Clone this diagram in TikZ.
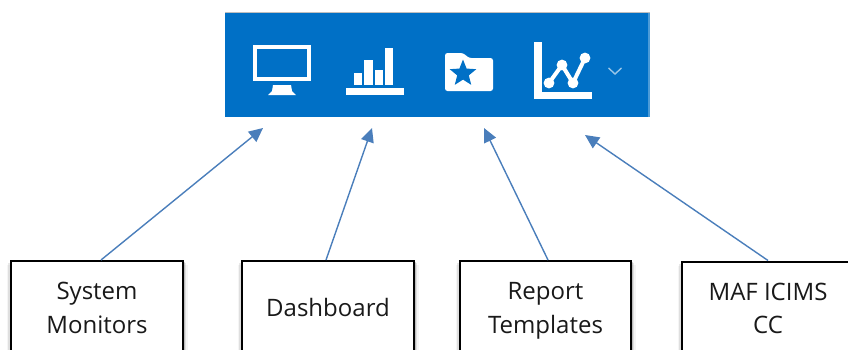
\documentclass[tikz,border=0pt]{standalone}
\usepackage{fontspec}
\setmainfont{Open Sans}
\definecolor{band}{HTML}{0070C6}
\definecolor{conn}{HTML}{4A7EBB}
\usetikzlibrary{arrows.meta,shapes.geometric}
\tikzset{
  label box/.style={draw=black,line width=2bp,fill=white,minimum width=172bp,minimum height=98bp,
    inner sep=0pt,align=center,anchor=north,font=\fontsize{24bp}{33.5bp}\selectfont,text=black!90},
  conn arrow/.style={draw=conn,line width=1.4bp,-{Triangle[length=14bp,width=13bp,fill=conn]}},
  icon/.style={fill=white,draw=none},
  icon line/.style={draw=white,fill=none}
}
\begin{document}
\begin{tikzpicture}[x=1bp,y=-1bp]
\useasboundingbox (0,0) rectangle (848,349);
\clip (0,0) rectangle (848,349);
% toolbar
\fill[black!25] (225,11.5) rectangle (650,12.5);
\fill[band] (225,12.5) rectangle (650,117);
\fill[band!70!white] (648,12.5) rectangle (650,117);
% monitor
\draw[icon line,line width=3.6bp] (254.8,46.8) rectangle (309.2,79.2);
\fill[icon] (273,85) -- (291,85) -- (292,91) -- (296,95) -- (268,95) -- (272,91) -- cycle;
% bars
\fill[icon] (354,73) rectangle (362,85);
\fill[icon] (364,60) rectangle (373,85);
\fill[icon] (375,70) rectangle (383,85);
\fill[icon] (385,48) rectangle (393,85);
\fill[icon] (346,88) rectangle (404,95);
% folder
\fill[icon,rounded corners=2.5bp] (445,91) -- (445,53) -- (463,53) -- (469,58) -- (493,58) -- (493,91) -- cycle;
\node[star,star points=5,star point ratio=2.3,fill=band,draw=none,minimum size=28bp,inner sep=0pt] (fav) at (463,73.5) {};
% chart
\fill[icon] (534,42) rectangle (541.5,99);
\fill[icon] (534,92) rectangle (592,99);
\draw[icon line,line width=4bp] (549,83) -- (562,65) -- (573,83) -- (585,58);
\foreach \p in {(549,83),(562,65),(573,83),(585,58)} \fill[icon] \p circle (5.4bp);
\draw[draw=band!40!white,line width=1.4bp] (608.5,68) -- (615,74) -- (621.5,68);
% shadows
\foreach \d/\o in {1.5/0.16,3/0.09,4.5/0.04}{
  \foreach \x/\t/\w in {11/260/172,242/260/172,460/260/171,682/261/172}{
    \fill[black,opacity=\o] (\x-\d,\t+\d) rectangle (\x+\w+\d,358);
  }
}
% boxes
\node[label box] (sys) at (97,260) {\strut System\\Monitors\strut};
\node[label box] (dash) at (328,260) {\strut Dashboard};
\node[label box,minimum width=171bp] (rep) at (545.5,260) {\strut Report\\Templates\strut};
\node[label box] (maf) at (768,260.5) {\strut MAF ICIMS\\CC\strut};
% connector targets
\coordinate (tsys) at (263,128);
\coordinate (tdash) at (372,128);
\coordinate (trep) at (484,128);
\coordinate (tmaf) at (585,135);
\draw[conn arrow] (sys.north) ++(4,0) -- (tsys);
\draw[conn arrow] (dash.north) ++(-2,0) -- (tdash);
\draw[conn arrow] (rep.north) ++(2.5,0) -- (trep);
\draw[conn arrow] (maf.north) -- (tmaf);
\end{tikzpicture}
\end{document}
